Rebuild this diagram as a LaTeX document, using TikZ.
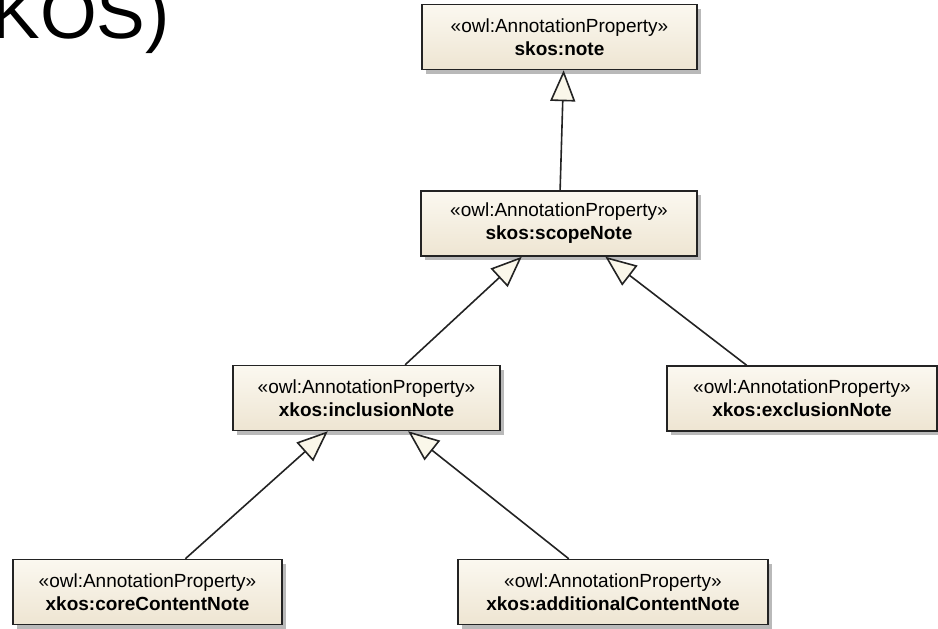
\documentclass[tikz,border=0pt]{standalone}
\usepackage{fontspec}
\setmainfont{Liberation Sans}
\usepackage{tikz}
\usetikzlibrary{arrows.meta,calc,shadows,positioning}

\definecolor{boxtop}{RGB}{251,248,240}
\definecolor{boxbottom}{RGB}{238,229,210}
\definecolor{boxline}{RGB}{35,35,35}
\definecolor{tipfill}{RGB}{250,247,234}

\tikzset{
  annprop/.style={draw=boxline,line width=1.5pt,top color=boxtop,bottom color=boxbottom,
    minimum height=65pt,inner sep=0pt,align=center,font=\fontsize{19}{23}\selectfont,
    drop shadow={shadow xshift=4pt,shadow yshift=-4pt,fill=black!50,opacity=.55}},
  gen/.style={draw=boxline,line width=1.6pt,-{Triangle[length=31pt,width=25pt,fill=tipfill]}}
}

\begin{document}
\begin{tikzpicture}[x=1pt,y=-1pt]
		\useasboundingbox (0,0) rectangle (938,629);

		\node[anchor=base east,inner sep=0pt,font=\fontsize{73}{80}\selectfont] (title) at (170,38) {KOS)};

		\node[annprop,minimum width=275pt] (note) at (559.5,37) {«owl:AnnotationProperty»\\\textbf{skos:note}};
		\node[annprop,minimum width=276pt] (scope) at (559,223.5) {«owl:AnnotationProperty»\\\textbf{skos:scopeNote}};
		\node[annprop,minimum width=267pt] (incl) at (366.5,398) {«owl:AnnotationProperty»\\\textbf{xkos:inclusionNote}};
		\node[annprop,minimum width=270pt] (excl) at (802,398.5) {«owl:AnnotationProperty»\\\textbf{xkos:exclusionNote}};
		\node[annprop,minimum width=269pt] (core) at (147.5,592) {«owl:AnnotationProperty»\\\textbf{xkos:coreContentNote}};
		\node[annprop,minimum width=310pt] (addl) at (613,592) {«owl:AnnotationProperty»\\\textbf{xkos:additionalContentNote}};

		% generalisations, child -> parent
		\draw[gen] ($(scope.north west)!0.504!(scope.north east)$) -- ($(note.south west)!0.515!(note.south east)$);
		\draw[gen] ($(incl.north west)!0.644!(incl.north east)$) -- ($(scope.south west)!0.366!(scope.south east)$);
		\draw[gen] ($(excl.north west)!0.296!(excl.north east)$) -- ($(scope.south west)!0.667!(scope.south east)$);
		\draw[gen] ($(core.north west)!0.64!(core.north east)$) -- ($(incl.south west)!0.356!(incl.south east)$);
		\draw[gen] ($(addl.north west)!0.358!(addl.north east)$) -- ($(incl.south west)!0.655!(incl.south east)$);
	\end{tikzpicture}
\end{document}
